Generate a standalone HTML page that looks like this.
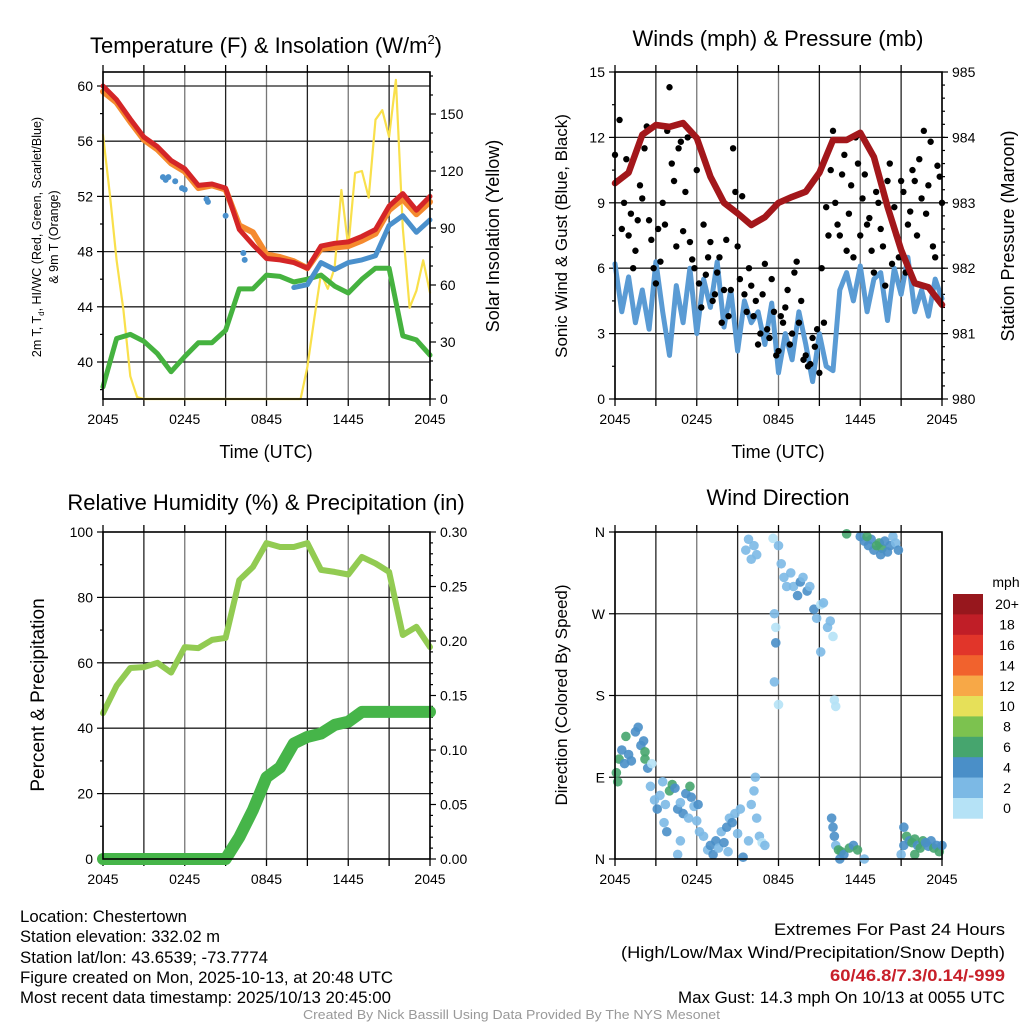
<!DOCTYPE html>
<html><head><meta charset="utf-8"><style>
html,body{margin:0;padding:0;background:#fff;}
svg{display:block;font-family:"Liberation Sans",Arial,sans-serif;}
</style></head><body>
<svg id="s" width="1024" height="1024" viewBox="0 0 1024 1024">
<rect width="1024" height="1024" fill="#fff"/>
<g id="g1"></g>
<g id="g2"></g>
<g id="g3"></g>
<g id="g4"></g>
<g id="txt" font-size="16.5" fill="#000">
<text x="266" y="53" font-size="22" text-anchor="middle">Temperature (F) &amp; Insolation (W/m<tspan font-size="13" dy="-9">2</tspan><tspan dy="9">)</tspan></text>
<text x="778" y="46" font-size="22" text-anchor="middle">Winds (mph) &amp; Pressure (mb)</text>
<text x="266" y="510" font-size="22" text-anchor="middle">Relative Humidity (%) &amp; Precipitation (in)</text>
<text x="778" y="505" font-size="22" text-anchor="middle">Wind Direction</text>
<text x="20" y="922" textLength="167" lengthAdjust="spacingAndGlyphs">Location: Chestertown</text>
<text x="20" y="942" textLength="200" lengthAdjust="spacingAndGlyphs">Station elevation: 332.02 m</text>
<text x="20" y="963" textLength="248" lengthAdjust="spacingAndGlyphs">Station lat/lon: 43.6539; -73.7774</text>
<text x="20" y="983" textLength="373" lengthAdjust="spacingAndGlyphs">Figure created on Mon, 2025-10-13, at 20:48 UTC</text>
<text x="20" y="1003" textLength="371" lengthAdjust="spacingAndGlyphs">Most recent data timestamp: 2025/10/13 20:45:00</text>
<text x="774" y="935" textLength="231" lengthAdjust="spacingAndGlyphs">Extremes For Past 24 Hours</text>
<text x="621" y="958" textLength="384" lengthAdjust="spacingAndGlyphs">(High/Low/Max Wind/Precipitation/Snow Depth)</text>
<text x="830" y="981" textLength="175" lengthAdjust="spacingAndGlyphs" fill="#c8202a" font-weight="bold">60/46.8/7.3/0.14/-999</text>
<text x="678" y="1003" textLength="327" lengthAdjust="spacingAndGlyphs">Max Gust: 14.3 mph On 10/13 at 0055 UTC</text>
<text x="303" y="1019" textLength="417" lengthAdjust="spacingAndGlyphs" font-size="13" fill="#999">Created By Nick Bassill Using Data Provided By The NYS Mesonet</text>
</g>
</svg>
<script>
// ---------- data ----------
const hours = [0,1,2,3,4,5,6,7,8,9,10,11,12,13,14,15,16,17,18,19,20,21,22,23,24];
const xTickLabels = ["2045","0245","0845","1445","2045"];
const tempRed = [60,59.0,57.6,56.3,55.6,54.6,54.0,52.8,52.9,52.6,49.6,48.5,47.5,47.4,47.2,46.8,48.4,48.6,48.7,49.1,49.6,51.3,52.2,51.0,52.0];
const tempOrange = [59.6,58.8,57.4,56.1,55.4,54.4,53.8,52.6,52.8,52.5,49.9,49.4,47.8,47.6,47.3,46.8,48.2,48.3,48.4,48.8,49.3,51.0,51.8,50.7,51.6];
const blueDotTimes = [4.4,4.6,4.8,5.3,5.8,6.0,7.6,7.7,9.0,10.3,10.4];
const blueDotValues = [53.4,53.2,53.4,53.1,52.6,52.5,51.8,51.6,50.6,47.9,47.4];
const tempBlue = [null,null,null,null,null,null,null,null,null,null,null,null,null,null,45.4,45.6,47.2,46.7,47.2,47.4,47.7,49.9,50.6,49.4,50.3];
const dewGreen = [38.2,41.7,42.0,41.5,40.6,39.3,40.4,41.4,41.4,42.3,45.3,45.3,46.3,46.2,45.8,46.0,46.3,45.5,45.0,46.0,46.8,46.8,41.9,41.6,40.5];
const halfHours = Array.from({length:49},(_,i)=>i*0.5);
const solar = [139,108,73,47,12,1, 0,0,0,0,0,0,0,0,0,0,0,0,0,0,0,0,0,0,0,0,0,0,0,0, 17,42,66,58,69,110,80,119,120,106,147,152,138,168,90,48,57,73,56];
const tempTicks = [40,44,48,52,56,60];
const solarTicks = [0,30,60,90,120,150];

const pressure = [983.30,983.46,984.04,984.19,984.16,984.22,983.99,983.40,983.00,982.84,982.66,982.78,983.00,983.09,983.17,983.46,983.96,983.96,984.07,983.70,982.94,982.28,981.77,981.71,981.44];
const wind = [6.2,4.0,5.6,3.5,5.0,3.2,6.3,4.0,2.0,5.2,3.5,6.0,3.0,5.5,4.2,6.3,3.3,5.0,2.2,4.5,3.5,4.0,2.5,4.4,1.2,3.0,1.8,4.0,2.5,0.8,3.0,1.5,1.3,5.0,5.8,4.5,6.1,4.0,5.5,5.8,3.6,6.0,4.8,6.5,4.0,5.0,3.8,5.5,4.6];
const gustA = [11.2,12.8,9.0,7.5,6.0,8.2,9.2,12.5,7.3,5.3,6.3,8.0,14.3,10.0,11.5,7.7,12.0,6.4,10.5,4.2,5.7,7.2,4.8,6.5,5.0,3.8,11.5,7.0,9.3,4.0,5.2,4.5,3.0,6.2,2.8,4.0,2.2,3.5,5.0,3.0,6.3,4.5,2.0,1.6,2.4,1.2,3.5,7.5,12.3,8.0,10.3,6.8,9.8,12.0,7.5,10.3,8.3,5.8,9.0,7.0,10.0,6.2,7.5,10.0,5.8,8.6,10.0,11.0,12.3,9.8,7.0,10.7,9.0];
const gustB = [10.0,7.8,11.0,8.5,6.8,9.8,11.5,8.2,6.0,7.8,9.0,12.3,10.8,7.0,11.8,9.5,7.2,6.0,5.3,8.0,6.5,4.5,5.8,3.5,7.3,5.0,9.5,5.5,4.8,6.0,3.8,2.5,4.8,3.2,5.5,2.0,3.8,4.2,2.5,5.8,3.5,1.8,1.5,2.8,3.2,6.0,8.8,10.5,9.0,7.5,11.2,8.5,6.5,10.8,9.2,8.0,6.8,9.5,7.8,5.2,10.8,8.8,6.5,9.5,8.0,10.5,7.5,9.2,8.5,11.8,6.5,10.2];
const windTicks = [0,3,6,9,12,15];
const presTicks = [980,981,982,983,984,985];

const rh = [44.6,53,58.4,58.7,60,57,64.8,64.5,67,67.6,85.3,89.3,96.6,95.4,95.4,96.6,88.4,87.8,87,92.4,90.4,87.8,68.5,71,64.8];
const precip = [0,0,0,0,0,0,0,0,0,0,0.02,0.045,0.075,0.084,0.106,0.112,0.115,0.123,0.126,0.135,0.135,0.135,0.135,0.135,0.135];
const rhTicks = [0,20,40,60,80,100];
const precipTicks = ["0.00","0.05","0.10","0.15","0.20","0.25","0.30"];

const dirTimes = [0.1,0.2,0.3,0.5,0.7,0.8,1.0,1.2,1.5,1.7,1.9,2.1,2.2,2.4,2.2, 2.6,2.9,3.1,3.3,3.5,3.7,4.0,4.2,4.4,4.6,4.8,5.0,5.2,5.4,5.6,5.8,6.0,6.2,3.6,3.8,4.8,4.6,2.7,6.1,5.5, 6.5,6.8,7.0,7.2,7.4,7.6,7.8,8.0,8.2,8.4,8.6,8.8,9.0,9.2,8.3,9.4,9.8,10.0,10.2,10.4,10.6,10.8,11.0,10.3, 9.6,9.8,10.0,10.2,10.4, 11.6,12.0,12.2,12.4,12.6,12.9,13.1,13.4,13.6,13.8,14.1,14.3,14.6,14.8,15.1,15.3,15.6,15.8,16.0,15.1,11.7,11.8,11.8,12.0,11.7,16.1,16.2, 15.9,16.0,16.1,16.2,16.4,16.6,16.8,17.2,17.5,17.8,18.3,16.5, 17.0,18.0,18.3,18.6,18.8,19.0,19.2,19.4,19.6,19.8,20.0,20.2,20.4,20.6,20.8,18.5,19.5, 21.0,21.2,21.4,21.6,21.8,22.0,22.2,22.4,22.6,22.8,23.0,23.2,23.4,23.6,23.8,24.0,22.0,21.2];
const dirDegrees = [95,85,110,120,105,135,115,108,140,145,125,130,118,100,110, 80,65,55,70,85,60,75,82,78,55,62,50,72,45,68,58,42,30,40,30,20,5,105,60,80, 25,10,15,5,20,12,30,18,35,45,40,50,28,55,8,2,20,60,75,45,25,18,15,90, 340,352,330,345,335, 353,345,325,310,300,315,300,290,305,310,295,300,275,265,280,282,255,262,245,228,270,255,238,170,195,175,168, 45,35,25,15,10,8,5,12,15,10,0,0, 358,355,350,345,352,340,345,348,342,350,338,345,355,348,340,355,335, 5,15,25,20,18,22,15,12,20,18,14,20,12,15,8,15,5,35];
const dirSpeeds = [6,6,6,4,4,6,4,4,4,4,4,4,6,4,6, 2,2,4,2,2,2,6,6,4,4,2,4,4,2,4,2,2,2,2,4,2,2,0,4,6, 2,2,4,4,4,2,2,4,4,2,4,2,2,2,2,4,2,2,2,2,2,0,2,2, 2,2,2,2,2, 0,2,2,2,2,2,2,4,4,2,4,2,4,2,0,2,2,2,0,2,2,0,4,0,2,0,0, 4,4,4,2,6,6,4,6,4,6,2,4, 6,4,4,4,4,4,6,6,6,4,4,4,2,2,4,6,4, 2,4,6,4,6,6,4,6,6,4,4,4,6,4,6,4,6,4];
const dirTickLabels = ["N","E","S","W","N"];
const speedBinLabels = ["0","2","4","6","8","10","12","14","16","18","20+"];
const speedColors = ["#b5e2f6","#7cb9e5","#4a8fc8","#46a56e","#7cc24f","#e6e059","#f7a847","#f1622d","#e1352a","#c01e27","#97171d"];

// ---------- helpers ----------
const NS = "http://www.w3.org/2000/svg";
function mk(parent, tag, attrs){ const e=document.createElementNS(NS,tag); for(const k in attrs) e.setAttribute(k,attrs[k]); parent.appendChild(e); return e; }
function txt(parent, x, y, s, size, anchor, extra){ const e=mk(parent,'text',Object.assign({x:x,y:y,'font-size':size,'text-anchor':anchor||'middle',fill:'#000'},extra||{})); e.textContent=s; return e; }
function pathFrom(ts, vs, sx, sy){ let d='', pen=false; for(let i=0;i<ts.length;i++){ const v=vs[i]; if(v===null||v===undefined){pen=false;continue;} d+=(pen?'L':'M')+sx(ts[i]).toFixed(1)+','+sy(v).toFixed(1); pen=true;} return d; }

function frame(g, L, R, T, B){
  for(let k=0;k<=8;k++){ const x=L+(R-L)*k/8;
    const ln=mk(g,'line',{x1:x,y1:T,x2:x,y2:B,stroke:(k%2?'#222':'#777'),'stroke-width':1.3});
     
    const tk=mk(g,'line',{x1:x,y1:B,x2:x,y2:B+7,stroke:'#000','stroke-width':1.3});
     
    if(k<8){ const tk2=mk(g,'line',{x1:x,y1:T,x2:x,y2:T-7,stroke:'#000','stroke-width':1.3});
        }
  }
  for(let k=0;k<5;k++){ const t=txt(g, L+(R-L)*k/4, B+25, xTickLabels[k], 14);
      }
}
function box(g,L,R,T,B){ const r=mk(g,'rect',{x:L,y:T,width:R-L,height:B-T,fill:'none',stroke:'#000','stroke-width':1.6});
    }
function hgrid(g,L,R,y){ const l=mk(g,'line',{x1:L,y1:y,x2:R,y2:y,stroke:'#222','stroke-width':1.3});
    }
function ytick(g,x,y,len,label,anchor){ const l=mk(g,'line',{x1:x,y1:y,x2:x+len,y2:y,stroke:'#000','stroke-width':1.2});
   
  if(label!==null){ const t=txt(g, x+len+(len<0?-4:4), y+5, label, 14, anchor);
      } }
function line(g,d,color,w,name){ const p=mk(g,'path',{d:d,fill:'none',stroke:color,'stroke-width':w,'stroke-linejoin':'round','stroke-linecap':'round'});
    return p; }
function vlabel(g,x,y,s,size,name){ const t=mk(g,'text',{x:0,y:0,'font-size':size,'text-anchor':'middle',transform:`translate(${x},${y}) rotate(-90)`,fill:'#000'}); t.textContent=s;
    return t; }

// ---------- panel 1 ----------
(function(){
  const g=document.getElementById('g1'); const L=103,R=430,T=72,B=399;
  const sx=t=>L+t/24*(R-L), sy=v=>86+(60-v)*13.8, sr=v=>B-v*1.9;
  frame(g,L,R,T,B);
  tempTicks.forEach(v=>{ hgrid(g,L,R,sy(v)); ytick(g,L,sy(v),-6,String(v),'end'); });
  for(let v=38;v<=60;v+=2) if(v%4) ytick(g,L,sy(v),-3,null);
  solarTicks.forEach(v=>ytick(g,R,sr(v),6,String(v),'start'));
  for(let v=10;v<=170;v+=10) if(v%30) ytick(g,R,sr(v),3,null);
  line(g,pathFrom(halfHours,solar,sx,sr),'#f9e04b',2.2,'solar-insolation-line');
  line(g,pathFrom(hours,dewGreen,sx,sy),'#45b23f',5,'dewpoint-line');
  line(g,pathFrom(hours,tempBlue,sx,sy),'#4a90cc',5,'heat-index-windchill-line');
  blueDotTimes.forEach((t,i)=>{ const c=mk(g,'circle',{cx:sx(t),cy:sy(blueDotValues[i]),r:3,fill:'#4a90cc'});
      });
  line(g,pathFrom(hours,tempOrange,sx,sy),'#f58a2e',6,'9m-temperature-line');
  line(g,pathFrom(hours,tempRed,sx,sy),'#d42527',5,'2m-temperature-line');
  box(g,L,R,T,B);
  const t=txt(g,266,458,'Time (UTC)',18);  
  const a=mk(g,'text',{x:0,y:0,'font-size':12.5,'text-anchor':'middle',transform:'translate(41,237) rotate(-90)'}); a.innerHTML='2m T, T<tspan font-size="8" dy="3">d</tspan><tspan dy="-3">, HI/WC (Red, Green, Scarlet/Blue)</tspan>';
   
  vlabel(g,58,237,'& 9m T (Orange)',12.5,'y-axis-title-line2');
  vlabel(g,499,236,'Solar Insolation (Yellow)',18,'right-axis-title');
})();

// ---------- panel 2 ----------
(function(){
  const g=document.getElementById('g2'); const L=615,R=942,T=72,B=399;
  const sx=t=>L+t/24*(R-L), sy=v=>B-v*21.8, sp=v=>T+(985-v)*65.4;
  frame(g,L,R,T,B);
  windTicks.forEach(v=>{ if(v>0&&v<15) hgrid(g,L,R,sy(v)); ytick(g,L,sy(v),-6,String(v),'end'); });
  for(let v=1.5;v<15;v+=3) ytick(g,L,sy(v),-3,null);
  presTicks.forEach(v=>ytick(g,R,sp(v),6,String(v),'start'));
  for(let v=980.2;v<985;v+=0.2) ytick(g,R,sp(v),3,null);
  line(g,pathFrom(halfHours,wind,sx,sy),'#5a9bd4',5,'sonic-wind-line');
  const dots=mk(g,'g',{fill:'#000'});  
  gustA.forEach((v,i)=>{ const c=mk(dots,'circle',{cx:sx(i/3),cy:sy(v),r:3.2});   });
  gustB.forEach((v,i)=>{ const c=mk(dots,'circle',{cx:sx(i/3+1/6),cy:sy(v),r:3.2});   });
  line(g,pathFrom(hours,pressure,sx,sp),'#a3171b',6.5,'station-pressure-line');
  box(g,L,R,T,B);
  const t=txt(g,778,458,'Time (UTC)',18);  
  vlabel(g,567,236,'Sonic Wind & Gust (Blue, Black)',17,'y-axis-title');
  vlabel(g,1014,236,'Station Pressure (Maroon)',18,'right-axis-title');
})();

// ---------- panel 3 ----------
(function(){
  const g=document.getElementById('g3'); const L=103,R=430,T=532,B=859;
  const sx=t=>L+t/24*(R-L), sy=v=>B-v*3.27, sp=v=>B-v*1090;
  frame(g,L,R,T,B);
  rhTicks.forEach(v=>{ if(v>0&&v<100) hgrid(g,L,R,sy(v)); ytick(g,L,sy(v),-6,String(v),'end'); });
  for(let v=10;v<100;v+=20) ytick(g,L,sy(v),-3,null);
  precipTicks.forEach(s=>ytick(g,R,sp(parseFloat(s)),6,s,'start'));
  for(let k=1;k<30;k++) if(k%5) ytick(g,R,sp(k/100),3,null);
  line(g,pathFrom(hours,rh,sx,sy),'#92cb52',6,'relative-humidity-line');
  line(g,pathFrom(hours,precip,sx,sp),'#46b549',12,'precipitation-line');
  box(g,L,R,T,B);
  vlabel(g,44,695,'Percent & Precipitation',19,'y-axis-title');
})();

// ---------- panel 4 ----------
(function(){
  const g=document.getElementById('g4'); const L=615,R=942,T=532,B=859;
  const sx=t=>L+t/24*(R-L), sy=d=>B-d*(B-T)/360;
  frame(g,L,R,T,B);
  dirTickLabels.forEach((s,k)=>{ const y=sy(k*90); if(k>0&&k<4) hgrid(g,L,R,y); ytick(g,L,y,-6,s,'end'); });
  const pts=mk(g,'g',{});  
  dirTimes.forEach((t,i)=>{ const bin=Math.min(10,Math.floor(dirSpeeds[i]/2));
    const c=mk(pts,'circle',{cx:sx(t),cy:sy(dirDegrees[i]),r:4.8,fill:speedColors[bin],'fill-opacity':0.9});
      });
  box(g,L,R,T,B);
  vlabel(g,567,695,'Direction (Colored By Speed)',17,'y-axis-title');
  const cb=mk(g,'g',{});  
  const h=20.4, top=594;
  for(let k=0;k<11;k++){ const idx=10-k; const y=top+k*h;
    const r=mk(cb,'rect',{x:953,y:y,width:30,height:h+0.3,fill:speedColors[idx]});
     
    const t=txt(cb,1007,y+h/2+5,speedBinLabels[idx],14);   }
  const m=txt(cb,1006,587,'mph',14);  
})();
</script>
</body></html>
